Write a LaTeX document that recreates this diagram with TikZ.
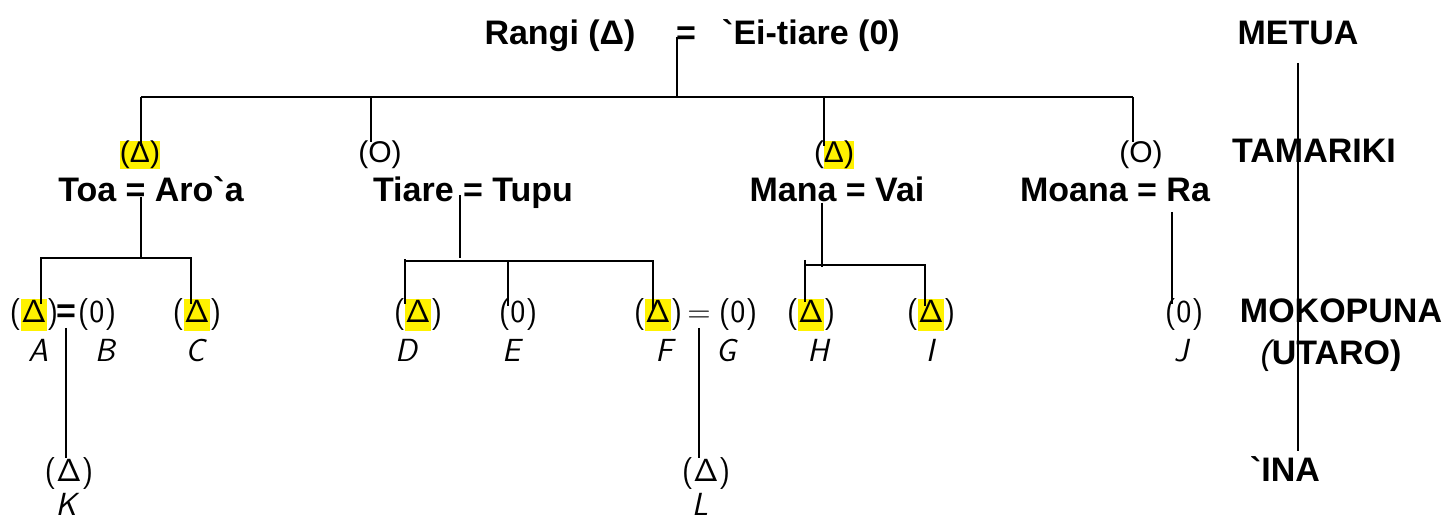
\documentclass[tikz,border=0pt]{standalone}
\usepackage{fontspec}
\setmainfont{Liberation Sans}
\tikzset{bl/.style={font=\bfseries\fontsize{17}{20}\selectfont, inner sep=0pt, anchor=base}}
\tikzset{up/.style={font=\fontsize{15}{18}\selectfont, inner sep=0pt, anchor=base}}
\tikzset{lo/.style={font=\sffamily\fontsize{16}{19}\selectfont, inner sep=0pt, anchor=base}}
\tikzset{lt/.style={font=\sffamily\itshape\fontsize{16}{19}\selectfont, inner sep=0pt, anchor=base}}
\tikzset{ln/.style={line width=0.9pt}}
\newcommand{\hl}[1]{{\setlength{\fboxsep}{0pt}\colorbox{yellow}{\vphantom{()}#1}}}
\newcommand{\grv}{\textasciigrave}

\begin{document}
\begin{tikzpicture}[x=0.5pt,y=-0.5pt]
\useasboundingbox (0,0) rectangle (1444,522);
% metua
\node[bl] (rangi) at (560,45) {Rangi (Δ)};
\node[bl] (eq0) at (686,45) {=};
\node[bl] (eitiare) at (811,45) {\grv Ei-tiare (0)};
\node[bl] (metua) at (1298,45) {METUA};
% tamariki
\node[up] (s1) at (140,163) {\hl{(Δ)}};
\node[up] (s2) at (380,163) {(O)};
\node[up] (s3) at (834,163) {(\hl{Δ)}};
\node[up] (s4) at (1141,163) {(O)};
\node[bl] (tamariki) at (1314,163) {TAMARIKI};
\node[bl] (c1) at (151,202) {Toa = Aro\grv a};
\node[bl] (c2) at (473,202) {Tiare = Tupu};
\node[bl] (c3) at (837,202) {Mana = Vai};
\node[bl] (c4) at (1115,202) {Moana = Ra};
% mokopuna
\node[lo] (asym) at (34,323) {(\hl{Δ})};
\node[bl] (eqab) at (66,323) {=};
\node[lo] (bsym) at (97,323) {(0)};
\node[lo] (csym) at (197,323) {(\hl{Δ})};
\node[lo] (dsym) at (418,323) {(\hl{Δ})};
\node[lo] (esym) at (518,323) {(0)};
\node[lo] (fsym) at (658,323) {(\hl{Δ})};
\node[lo] (eqfg) at (699,323) {=};
\node[lo] (gsym) at (738,323) {(0)};
\node[lo] (hsym) at (811,323) {(\hl{Δ})};
\node[lo] (isym) at (931,323) {(\hl{Δ})};
\node[lo] (jsym) at (1184,323) {(0)};
\node[bl] (mokopuna) at (1341,323) {MOKOPUNA};
\node[lt] (A) at (38,362) {A};
\node[lt] (B) at (105,362) {B};
\node[lt] (C) at (195,362) {C};
\node[lt] (D) at (406,362) {D};
\node[lt] (E) at (511,362) {E};
\node[lt] (F) at (664,362) {F};
\node[lt] (G) at (726,362) {G};
\node[lt] (H) at (818,362) {H};
\node[lt] (I) at (930,362) {I};
\node[lt] (J) at (1181,362) {J};
\node[bl] (utaro) at (1331,365) {{\normalfont\itshape(}UTARO)};
% ina
\node[lo] (ksym) at (69,482) {(Δ)};
\node[lo] (lsym) at (706,482) {(Δ)};
\node[bl] (ina) at (1285,482) {\grv INA};
\node[lt] (K) at (66,516) {K};
\node[lt] (L) at (700,516) {L};

% top bar
\coordinate (root) at (677,97);
\coordinate (u1) at (141,97);
\coordinate (u2) at (371,97);
\coordinate (u3) at (824,97);
\coordinate (u4) at (1133,97);
\draw[ln] ([yshift=4pt]root |- eq0.base) -- (root);
\draw[ln] (u1) -- (u4);
\draw[ln] (u1) -- ([yshift=-2.5pt]u1 |- s1.north);
\draw[ln] (u2) -- ([yshift=-0.5pt]u2 |- s2.north);
\draw[ln] (u3) -- ([yshift=-2.5pt]u3 |- s3.north);
\draw[ln] (u4) -- ([yshift=-0.5pt]u4 |- s4.north);
% toa
\coordinate (j1) at (141,258);
\coordinate (t1) at (41,258);
\coordinate (t2) at (191,258);
\draw[ln] ([yshift=2.5pt]j1 |- c1.base) -- (j1);
\draw[ln] ([yshift=-2.5pt]t1 |- asym.north) -- (t1) -- (t2) -- ([yshift=-2.5pt]t2 |- csym.north);
\draw[ln] ([yshift=-2.5pt]eqab.base) -- (eqab.base |- ksym.north);
% tiare
\coordinate (j2) at (460,261);
\coordinate (t3) at (405,261);
\coordinate (t4) at (508,261);
\coordinate (t5) at (653,261);
\draw[ln] ([yshift=3.5pt]j2 |- c2.base) -- ([yshift=1.5pt]j2);
\draw[ln] ([yshift=-2.5pt]t3 |- dsym.north) -- ([yshift=1pt]t3);
\draw[ln] (t3) -- (t5) -- ([yshift=-5pt]t5 |- fsym.north);
\draw[ln] (t4) -- ([yshift=-3.5pt]t4 |- esym.north);
\draw[ln] ([yshift=-2.5pt]eqfg.base) -- (eqfg.base |- lsym.north);
% mana
\coordinate (j3) at (822,265);
\coordinate (t6) at (805,265);
\coordinate (t7) at (925,265);
\draw[ln] ([yshift=-0.5pt]j3 |- c3.base) -- ([yshift=-1pt]j3);
\draw[ln] ([yshift=2.5pt]t6) -- ([yshift=-1.5pt]t6 |- hsym.north);
\draw[ln] (t6) -- (t7) -- ([yshift=-3.5pt]t7 |- isym.north);
% moana
\draw[ln] ([xshift=-6pt,yshift=-5pt]jsym.north |- c4.base) -- ([xshift=-6pt,yshift=-2.5pt]jsym.north);
% generations
\draw[ln] ([yshift=-9pt]metua.base) -- ([yshift=3pt]metua.base |- ina.north);
\end{tikzpicture}
\end{document}
